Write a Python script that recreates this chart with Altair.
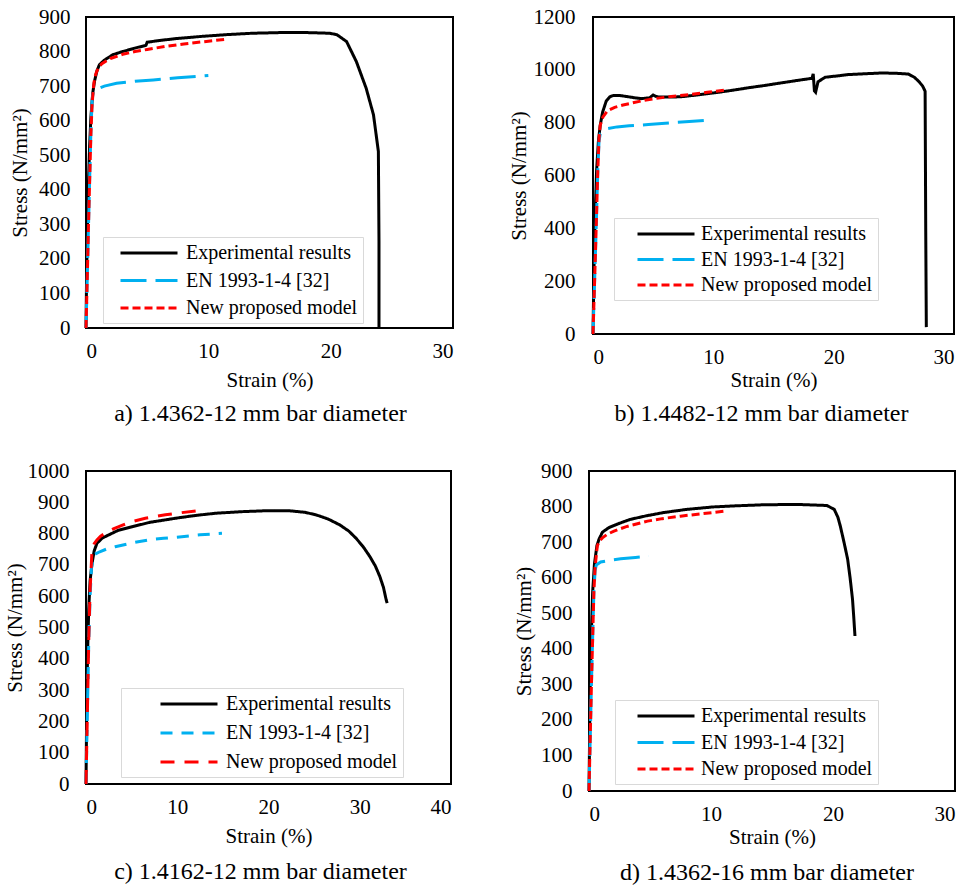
import altair as alt
import pandas as pd

SERIES = ["Experimental results", "EN 1993-1-4 [32]", "New proposed model"]
COLORS = ["#000000", "#00B0F0", "#FF0000"]
FONT = "Liberation Serif"

# ---------------- panel a) 1.4362-12 mm ----------------
a_exp_x = [0, 0.05, 0.12, 0.2, 0.3, 0.4, 0.55, 0.7, 0.9, 1.1, 1.5, 2.2, 3.0, 4.0, 4.9, 5.0, 6.0, 7.5, 9.5, 11.5, 13.6, 16.0, 18.0, 19.9, 20.5, 21.3, 22.1, 22.9, 23.5, 23.9, 23.95, 23.95]
a_exp_y = [0, 150, 300, 420, 530, 610, 680, 715, 745, 762, 775, 791, 800, 810, 818, 827, 832, 838, 844, 849, 853, 855, 855, 853, 849, 829, 771, 694, 617, 511, 250, 0]
a_en_x = [0, 0.1, 0.2, 0.3, 0.4, 0.5, 0.6, 1.0, 1.5, 2.5, 4.0, 5.5, 7.5, 10.0]
a_en_y = [0, 140, 290, 430, 570, 660, 685, 693, 700, 708, 714, 718, 724, 731]
a_new_x = [0, 0.1, 0.2, 0.3, 0.4, 0.5, 0.65, 0.8, 1.0, 1.3, 2.0, 3.0, 4.0, 5.0, 6.5, 8.0, 10.0, 11.5]
a_new_y = [0, 140, 290, 430, 560, 650, 710, 735, 752, 765, 780, 792, 800, 806, 815, 822, 830, 836]

# ---------------- panel b) 1.4482-12 mm ----------------
b_exp_x = [0, 0.05, 0.1, 0.2, 0.3, 0.45, 0.6, 0.8, 1.1, 1.4, 1.7, 2.2, 2.8, 3.5, 4.0, 4.7, 5.0, 5.2, 5.5, 6.5, 7.3, 8.5, 10.1, 11.5, 12.9, 14.3, 15.7, 17.0, 18.2, 18.3, 18.4, 18.5, 18.7, 19.3, 20.5, 21.2, 22.5, 24.0, 25.2, 26.2, 26.7, 27.1, 27.4, 27.6, 27.65, 27.7]
b_exp_y = [0, 150, 300, 480, 620, 730, 790, 840, 882, 898, 903, 903, 899, 894, 891, 894, 905, 900, 897, 897, 898, 904, 913, 922, 932, 941, 951, 960, 968, 985, 920, 915, 955, 972, 978, 982, 985, 988, 987, 984, 972, 955, 938, 919, 400, 26]
b_en_x = [0, 0.1, 0.2, 0.3, 0.4, 0.5, 0.6, 0.9, 1.25, 2.0, 3.0, 4.6, 6.0, 8.0, 9.8]
b_en_y = [0, 150, 300, 460, 620, 730, 758, 768, 778, 784, 788, 793, 798, 804, 810]
b_new_x = [0, 0.1, 0.2, 0.3, 0.4, 0.5, 0.6, 0.83, 1.2, 1.8, 2.5, 3.2, 4.0, 5.1, 6.5, 8.0, 9.5, 11.2]
b_new_y = [0, 150, 300, 460, 620, 740, 790, 822, 845, 858, 867, 874, 882, 891, 899, 906, 915, 925]

# ---------------- panel c) 1.4162-12 mm ----------------
c_exp_x = [0, 0.05, 0.1, 0.2, 0.3, 0.45, 0.66, 0.9, 1.2, 1.8, 2.5, 3.5, 5.05, 7.0, 9.8, 12.0, 14.2, 17.0, 19.7, 22.3, 24.0, 25.2, 26.5, 27.8, 28.8, 29.6, 30.4, 31.1, 31.7, 32.2, 32.6, 32.9, 33.0]
c_exp_y = [0, 150, 300, 450, 560, 650, 705, 745, 769, 786, 796, 810, 822, 836, 849, 858, 865, 870, 873, 873, 868, 860, 847, 828, 808, 785, 757, 727, 697, 663, 628, 588, 578]
c_en_x = [0, 0.1, 0.2, 0.3, 0.45, 0.6, 0.84, 1.5, 2.2, 3.2, 5.0, 6.9, 8.5, 10.5, 12.5, 14.9]
c_en_y = [0, 150, 300, 450, 600, 690, 732, 742, 750, 758, 770, 780, 785, 790, 796, 801]
c_new_x = [0, 0.1, 0.2, 0.3, 0.45, 0.66, 0.9, 1.2, 1.6, 2.1, 3.0, 4.0, 5.05, 6.5, 8.7, 10.5, 12.2]
c_new_y = [0, 150, 300, 460, 620, 748, 768, 780, 792, 801, 815, 827, 838, 849, 860, 867, 873]

# ---------------- panel d) 1.4362-16 mm ----------------
d_exp_x = [0, 0.05, 0.1, 0.2, 0.3, 0.45, 0.65, 0.82, 1.1, 1.64, 2.5, 3.4, 4.7, 6.1, 8.0, 10.2, 12.0, 14.3, 17.0, 19.5, 20.1, 20.4, 20.6, 20.9, 21.2, 21.4, 21.6, 21.7, 21.8]
d_exp_y = [0, 150, 300, 450, 560, 640, 690, 708, 728, 741, 753, 764, 774, 783, 792, 799, 802, 805, 806, 803, 792, 770, 745, 700, 652, 600, 539, 490, 436]
d_en_x = [0, 0.1, 0.2, 0.3, 0.4, 0.5, 0.6, 0.96, 1.6, 2.6, 3.8, 4.9]
d_en_y = [0, 150, 300, 430, 560, 620, 636, 644, 648, 653, 657, 661]
d_new_x = [0, 0.1, 0.2, 0.3, 0.4, 0.5, 0.68, 0.85, 1.1, 1.5, 2.05, 3.0, 4.8, 6.0, 7.5, 9.3, 11.1]
d_new_y = [0, 150, 300, 430, 560, 630, 689, 703, 712, 722, 731, 743, 759, 766, 773, 780, 787]


def make_df(ex, ey, nx, ny, px, py):
    rows = []
    for name, xs, ys in zip(SERIES, [ex, nx, px], [ey, ny, py]):
        for i, (x, y) in enumerate(zip(xs, ys)):
            rows.append({"strain": x, "stress": y, "series": name, "idx": i})
    return pd.DataFrame(rows)


# wide horizontal line symbol: spans 6 units of a 2-unit box -> 3*sqrt(size) px long
SYM_PATH = "M-3,0H3"
SYM_SIZE = 361  # sqrt = 19 -> line length 57 px


def panel(df, xmax, ymax, ystep, w, h, dashes, lx, ly, sym_off, lab_off, row_pad, caption, cap_dx,
          cap_off, y_title_pad, x_title_pad, y_label_pad, x_label_pad=12):
    legend = alt.Legend(
        title=None, orient="none", legendX=lx, legendY=ly,
        symbolType=SYM_PATH, symbolSize=SYM_SIZE, symbolStrokeWidth=3,
        symbolFillColor="transparent",
        labelFont=FONT, labelFontSize=20, labelColor="black", labelOffset=lab_off,
        labelLimit=400,
        rowPadding=row_pad, padding=5, symbolOffset=sym_off,
        fillColor="white", strokeColor="#d9d9d9",
    )
    axis_common = dict(grid=False, domain=False, ticks=False, labelOverlap=False,
                       labelFont=FONT, labelFontSize=21, labelColor="black",
                       titleFont=FONT, titleFontSize=21, titleFontWeight="normal",
                       titleColor="black", format="d")
    return alt.Chart(df).mark_line(strokeWidth=3, strokeCap="butt").encode(
        x=alt.X("strain:Q", scale=alt.Scale(domain=[0, xmax], nice=False, zero=True),
                axis=alt.Axis(title="Strain (%)", values=list(range(0, xmax + 1, 10)),
                              labelPadding=x_label_pad, titlePadding=x_title_pad, **axis_common)),
        y=alt.Y("stress:Q", scale=alt.Scale(domain=[0, ymax], nice=False),
                axis=alt.Axis(title="Stress (N/mm²)", values=list(range(0, ymax + 1, ystep)),
                              labelPadding=y_label_pad, titlePadding=y_title_pad, **axis_common)),
        color=alt.Color("series:N", scale=alt.Scale(domain=SERIES, range=COLORS), legend=legend),
        strokeDash=alt.StrokeDash("series:N", scale=alt.Scale(domain=SERIES, range=dashes), legend=legend),
        order=alt.Order("idx:Q"),
        detail="series:N",
    ).properties(
        width=w, height=h,
        title=alt.TitleParams(caption, orient="bottom", anchor="middle", frame="group",
                              font=FONT, fontSize=24, fontWeight="normal", color="black",
                              dx=cap_dx, offset=cap_off),
    )


dash_long = [[1, 0], [26, 9], [8, 4]]
dash_c = [[1, 0], [12, 9], [14, 10]]

pa = panel(make_df(a_exp_x, a_exp_y, a_en_x, a_en_y, a_new_x, a_new_y), 30, 900, 100, 367, 311,
           dash_long, 17, 220, 30, 26, 6.5, "a) 1.4362-12 mm bar diameter", -9, 12, 8, 8, 16)
pb = panel(make_df(b_exp_x, b_exp_y, b_en_x, b_en_y, b_new_x, b_new_y), 30, 1200, 200, 361, 317,
           dash_long, 21, 201, 36, 24, 4.5, "b) 1.4482-12 mm bar diameter", -12, 12, 4, 2, 18)
pc = panel(make_df(c_exp_x, c_exp_y, c_en_x, c_en_y, c_new_x, c_new_y), 40, 1000, 100, 365, 313,
           dash_c, 35, 217, 52, 26, 8, "c) 1.4162-12 mm bar diameter", -8, 14, 2, 8, 17)
pd_ = panel(make_df(d_exp_x, d_exp_y, d_en_x, d_en_y, d_new_x, d_new_y), 30, 900, 100, 366, 320,
            dash_long, 26, 229, 35, 24, 5.5, "d) 1.4362-16 mm bar diameter", -5, 14, 6, 2, 17)

row1 = alt.hconcat(pa, pb, spacing=53).resolve_scale(color="independent", strokeDash="independent")
row2 = alt.hconcat(pc, pd_, spacing=60).resolve_scale(color="independent", strokeDash="independent")

chart = alt.vconcat(row1, row2, spacing=32).properties(
    padding={"left": 3, "top": 5, "right": 5, "bottom": 5},
    background="white",
).configure(font=FONT).configure_view(stroke="black", strokeWidth=2)

chart.save("out.html", embed_options={"renderer": "svg", "actions": False})
